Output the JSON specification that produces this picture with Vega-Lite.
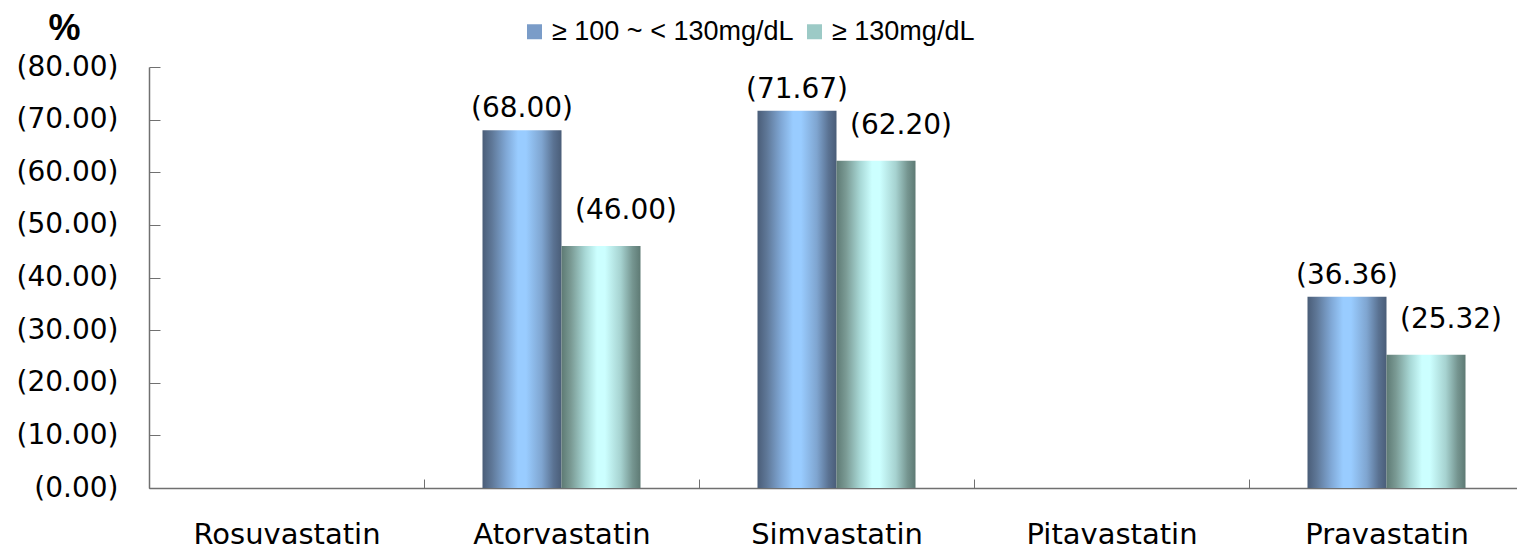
{
  "$schema": "https://vega.github.io/schema/vega-lite/v6.json",
  "width": 1368,
  "height": 421,
  "autosize": {"type": "none"},
  "padding": {"left": 149, "top": 67, "right": 0, "bottom": 62},
  "background": "white",
  "config": {"view": {"stroke": null}, "font": "DejaVu Sans"},
  "data": {
    "values": [
      {"drug": "Atorvastatin", "series": "≥ 100 ~ < 130mg/dL", "value": 68.0},
      {"drug": "Atorvastatin", "series": "≥ 130mg/dL", "value": 46.0},
      {"drug": "Simvastatin", "series": "≥ 100 ~ < 130mg/dL", "value": 71.67},
      {"drug": "Simvastatin", "series": "≥ 130mg/dL", "value": 62.2},
      {"drug": "Pravastatin", "series": "≥ 100 ~ < 130mg/dL", "value": 36.36},
      {"drug": "Pravastatin", "series": "≥ 130mg/dL", "value": 25.32}
    ]
  },
  "transform": [
    {"calculate": "'(' + format(datum.value, '.2f') + ')'", "as": "label"}
  ],
  "encoding": {
    "x": {
      "field": "drug",
      "type": "nominal",
      "sort": null,
      "scale": {
        "domain": ["Rosuvastatin", "Atorvastatin", "Simvastatin", "Pitavastatin", "Pravastatin"],
        "range": [0, 1375],
        "paddingInner": 0,
        "paddingOuter": 0
      },
      "axis": {
        "title": null,
        "labelAngle": 0,
        "labelFont": "DejaVu Sans",
        "labelFontSize": 29,
        "labelColor": "#000000",
        "labelPadding": 41,
        "labelLimit": 0,
        "domainColor": "#707070",
        "domainWidth": 1.5,
        "tickColor": "#707070",
        "tickWidth": 1,
        "tickSize": -9,
        "tickBand": "extent"
      }
    },
    "xOffset": {
      "field": "series",
      "type": "nominal",
      "scale": {"domain": ["≥ 100 ~ < 130mg/dL", "≥ 130mg/dL"], "paddingInner": 0, "paddingOuter": 0.7405}
    },
    "y": {
      "field": "value",
      "type": "quantitative",
      "scale": {"domain": [0, 80], "nice": false},
      "axis": {
        "values": [0, 10, 20, 30, 40, 50, 60, 70, 80],
        "labelExpr": "'(' + format(datum.value, '.2f') + ')'",
        "grid": false,
        "labelFont": "DejaVu Sans",
        "labelFontSize": 28,
        "labelColor": "#000000",
        "labelPadding": 42,
        "domainColor": "#707070",
        "domainWidth": 1.5,
        "tickColor": "#707070",
        "tickSize": -11,
        "title": "%",
        "titleAngle": 0,
        "titleFont": "Liberation Sans",
        "titleFontSize": 36,
        "titleFontWeight": "bold",
        "titleColor": "#000000",
        "titleAlign": "center",
        "titleBaseline": "alphabetic",
        "titleX": -85,
        "titleY": -28
      }
    }
  },
  "layer": [
    {
      "transform": [{"filter": "datum.series === '≥ 100 ~ < 130mg/dL'"}],
      "mark": {
        "type": "bar",
        "fill": {"gradient": "linear", "x1": 0, "y1": 0, "x2": 1, "y2": 0, "stops": [
          {"offset": 0, "color": "#4a5d78"},
          {"offset": 0.12, "color": "#5f7898"},
          {"offset": 0.3, "color": "#80a8d6"},
          {"offset": 0.45, "color": "#99ccff"},
          {"offset": 0.55, "color": "#99ccff"},
          {"offset": 0.75, "color": "#7fa5d0"},
          {"offset": 0.9, "color": "#5a7292"},
          {"offset": 1, "color": "#4a5d78"}
        ]}
      },
      "encoding": {}
    },
    {
      "transform": [{"filter": "datum.series === '≥ 130mg/dL'"}],
      "mark": {
        "type": "bar",
        "fill": {"gradient": "linear", "x1": 0, "y1": 0, "x2": 1, "y2": 0, "stops": [
          {"offset": 0, "color": "#5e7a74"},
          {"offset": 0.12, "color": "#7a9a94"},
          {"offset": 0.3, "color": "#a8d8d6"},
          {"offset": 0.45, "color": "#ccffff"},
          {"offset": 0.55, "color": "#ccffff"},
          {"offset": 0.75, "color": "#a6d2d0"},
          {"offset": 0.9, "color": "#759590"},
          {"offset": 1, "color": "#5e7a74"}
        ]}
      },
      "encoding": {}
    },
    {
      "mark": {"type": "square", "size": 0, "filled": true, "opacity": 0},
      "encoding": {
        "color": {
          "field": "series",
          "type": "nominal",
          "scale": {
            "domain": ["≥ 100 ~ < 130mg/dL", "≥ 130mg/dL"],
            "range": ["#7a9cc8", "#9ccac6"]
          },
          "legend": {
            "orient": "none",
            "legendX": 372,
            "legendY": -49,
            "direction": "horizontal",
            "title": null,
            "symbolType": "square",
            "symbolSize": 225,
            "symbolOpacity": 1,
            "symbolStrokeWidth": 0,
            "labelFont": "Liberation Sans",
            "labelFontSize": 27,
            "labelColor": "#000000",
            "labelLimit": 0,
            "labelOffset": 4,
            "columnPadding": 7,
            "padding": 0,
            "encode": {
              "symbols": {
                "update": {
                  "opacity": {"value": 1},
                  "fill": {"signal": "datum.value === '≥ 130mg/dL' ? {gradient: 'linear', x1: 0, y1: 0, x2: 1, y2: 0, stops: [{offset: 0, color: '#5e7a74'}, {offset: 0.45, color: '#ccffff'}, {offset: 0.55, color: '#ccffff'}, {offset: 1, color: '#5e7a74'}]} : {gradient: 'linear', x1: 0, y1: 0, x2: 1, y2: 0, stops: [{offset: 0, color: '#4a5d78'}, {offset: 0.45, color: '#99ccff'}, {offset: 0.55, color: '#99ccff'}, {offset: 1, color: '#4a5d78'}]}"}
                }
              }
            }
          }
        }
      }
    },
    {
      "transform": [{"filter": "datum.series === '≥ 100 ~ < 130mg/dL'"}],
      "mark": {"type": "text", "baseline": "alphabetic", "dy": -13, "fontSize": 28, "font": "DejaVu Sans", "color": "#000000"},
      "encoding": {"text": {"field": "label"}}
    },
    {
      "transform": [{"filter": "datum.series === '≥ 130mg/dL'"}],
      "mark": {"type": "text", "baseline": "alphabetic", "dx": 25, "dy": -27, "fontSize": 28, "font": "DejaVu Sans", "color": "#000000"},
      "encoding": {"text": {"field": "label"}}
    }
  ]
}
